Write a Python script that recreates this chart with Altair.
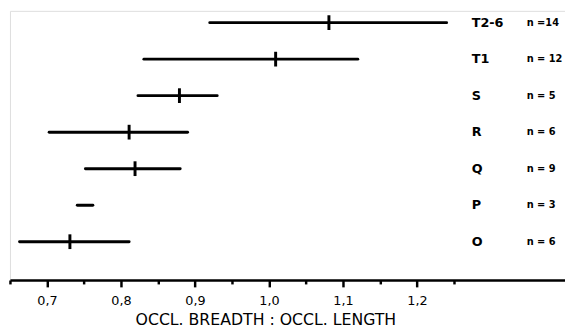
import altair as alt
import pandas as pd

groups = ["T2-6", "T1", "S", "R", "Q", "P", "O"]
low = [0.920, 0.831, 0.823, 0.703, 0.752, 0.741, 0.663]
mean = [1.081, 1.009, 0.879, 0.811, 0.819, None, 0.731]
high = [1.240, 1.120, 0.930, 0.890, 0.880, 0.762, 0.811]
n_labels = ["n =14", "n = 12", "n = 5", "n = 6", "n = 9", "n = 3", "n = 6"]

tick_values = [0.65, 0.7, 0.75, 0.8, 0.85, 0.9, 0.95, 1.0, 1.05, 1.1, 1.15, 1.2, 1.25]

df = pd.DataFrame({"group": groups, "low": low, "mean": mean, "high": high, "n": n_labels})

major = "round(datum.value*20)%2==0"
xaxis = alt.Axis(
    values=tick_values,
    title="OCCL. BREADTH : OCCL. LENGTH",
    labelExpr=f"{major} ? replace(format(datum.value,'.1f'),'.',',') : ''",
    tickSize={"condition": {"test": major, "value": 7}, "value": 4},
    grid=False,
    labelFlush=False,
    labelOverlap=False,
    labelPadding=8,
    labelFont="DejaVu Sans",
    labelFontSize=13,
    labelColor="black",
    titleFont="DejaVu Sans",
    titleFontSize=16,
    titleFontWeight="normal",
    titleColor="black",
    titlePadding=4,
    titleX=260,
    domainColor="black",
    domainWidth=2.5,
    tickColor="black",
    tickWidth=2.5,
)
xscale = alt.Scale(domain=[0.65, 1.40], nice=False, zero=False)
yenc = alt.Y("group:N", sort=groups, axis=None,
             scale=alt.Scale(type="point", range=[12, 235], padding=0))

base = alt.Chart(df)

rules = base.mark_rule(color="black", strokeWidth=3, strokeCap="round").encode(
    x=alt.X("low:Q", scale=xscale, axis=xaxis),
    x2="high:Q",
    y=yenc,
)
ticks = base.transform_filter("isValid(datum.mean)").mark_tick(
    color="black", opacity=1, size=15, thickness=3, orient="vertical"
).encode(
    x=alt.X("mean:Q", scale=xscale, axis=xaxis),
    y=yenc,
)
glabels = base.mark_text(align="left", baseline="middle", font="DejaVu Sans",
                         fontSize=13, fontWeight="bold", color="black").encode(
    x=alt.value(470), y=yenc, text="group:N"
)
nlabels = base.mark_text(align="left", baseline="middle", font="DejaVu Sans",
                         fontSize=10, fontWeight="bold", color="black").encode(
    x=alt.value(526), y=yenc, text="n:N"
)

chart = alt.layer(rules, ticks, glabels, nlabels).properties(
    width=565, height=274, padding=0
).configure_view(stroke=None).configure(background="white")

chart.save("out.html", embed_options={"renderer": "svg", "actions": False})
